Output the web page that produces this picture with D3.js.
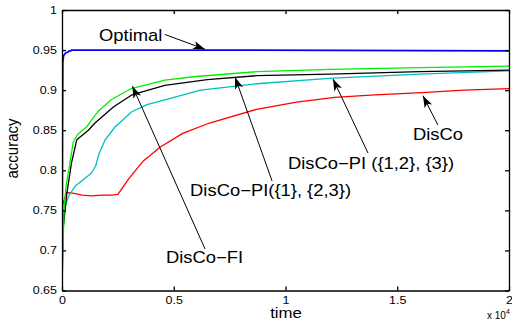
<!DOCTYPE html>
<html>
	<head>
		<title>accuracy vs time</title>
		<style>
			body { margin: 0; background: #fff; }
			text { font-family: "Liberation Sans", Arial, Helvetica, sans-serif; fill: #000; }
		</style>
	</head>
	<body>
		<script src="https://d3js.org/d3.v7.min.js"></script>
		<div id="wrapper"></div>
	</body>
</html>

<script>
	// curves: [time, accuracy]
	var optimal = [[0,0.65],[20,0.85],[35,0.935],[70,0.943],[150,0.946],[280,0.948],[450,0.95],[6000,0.95],[20000,0.949]];
	var discoFI = [[0,0.65],[45,0.70],[90,0.75],[180,0.78],[360,0.81],[500,0.835],[700,0.845],[1100,0.854],[1300,0.862],[1600,0.873],[2200,0.888],[3100,0.902],[4600,0.9125],[6000,0.917],[8700,0.923],[12000,0.926],[16000,0.928],[20000,0.930]];
	var discoPI1 = [[0,0.65],[30,0.70],[60,0.73],[210,0.77],[430,0.81],[660,0.838],[1180,0.85],[1475,0.859],[2300,0.879],[3120,0.894],[4600,0.906],[6500,0.913],[8700,0.918],[12000,0.920],[16000,0.923],[20000,0.925]];
	var discoPI2 = [[0,0.65],[20,0.70],[90,0.75],[280,0.767],[580,0.78],[1030,0.79],[1300,0.796],[1500,0.805],[1650,0.82],[1930,0.838],[2370,0.854],[3120,0.873],[3800,0.882],[4600,0.888],[6200,0.90],[8700,0.908],[12100,0.915],[16000,0.92],[20000,0.924]];
	var disco = [[0,0.65],[10,0.745],[25,0.755],[60,0.76],[120,0.765],[200,0.772],[350,0.772],[600,0.771],[900,0.769],[1300,0.768],[1800,0.769],[2250,0.769],[2500,0.77],[3000,0.79],[3650,0.812],[4400,0.829],[5400,0.846],[6600,0.859],[8700,0.876],[10500,0.885],[12200,0.891],[14000,0.894],[16100,0.897],[18000,0.90],[20000,0.902]];

	var seriesNames = ["Optimal", "DisCo-FI", "DisCo-PI({1}, {2,3})", "DisCo-PI ({1,2}, {3})", "DisCo"];
	var seriesColors = ["#0000ff", "#00ee00", "#000000", "#00bfbf", "#ff0000"];

	// tick values
	var xTicks = [0, 5000, 10000, 15000, 20000];
	var xTickLabels = ["0", "0.5", "1", "1.5", "2"];
	var yTicks = [0.65, 0.7, 0.75, 0.8, 0.85, 0.9, 0.95, 1];
	var yTickLabels = ["0.65", "0.7", "0.75", "0.8", "0.85", "0.9", "0.95", "1"];

	// annotations: label, text start [t, acc], arrow tail, arrow tip
	var annoLabels = ["Optimal", "DisCo\u2212FI", "DisCo\u2212PI({1}, {2,3})", "DisCo\u2212PI ({1,2}, {3})", "DisCo"];
	var annoText = [[1655, 0.9607], [4650, 0.6843], [5730, 0.7679], [10110, 0.8016], [15700, 0.8378]];
	var annoTail = [[4600, 0.9695], [6400, 0.7018], [9400, 0.7866], [13690, 0.8216], [16820, 0.8565]];
	var annoTip = [[6400, 0.951], [3150, 0.905], [7740, 0.9164], [12125, 0.914], [16150, 0.893]];

	var w = 512;
	var h = 323;
	var pLeft = 62, pRight = 509, pTop = 10, pBottom = 290.5;
	var stretch = 1.15;
	var tickStretch = 1.25;

	var svg = d3.select("#wrapper")
				.append("svg")
				.attr("width", w)
				.attr("height", h);

	var x = d3.scaleLinear().domain([0, 20000]).range([pLeft, pRight]);
	var y = d3.scaleLinear().domain([0.65, 1]).range([pBottom, pTop]);

	// clip
	svg.append("clipPath").attr("id", "clip")
		.append("rect")
		.attr("x", pLeft).attr("y", pTop)
		.attr("width", pRight - pLeft).attr("height", pBottom - pTop);

	// curves
	var line = d3.line()
				.x(function(d) { return x(d[0]); })
				.y(function(d) { return y(d[1]); });
	var allSeries = [optimal, discoFI, discoPI1, discoPI2, disco];
	// draw red first, blue last
	var order = [4, 3, 2, 1, 0];
	order.forEach(function(i) {
		svg.append("path")
			.datum(allSeries[i])
			.attr("clip-path", "url(#clip)")
			.attr("d", line)
			.attr("fill", "none")
			.attr("stroke", seriesColors[i])
			.attr("stroke-width", i == 0 ? 1.8 : 1.3)
			.attr("stroke-linejoin", "round");
	});

	// axes
	var fmtX = function(d) { return xTickLabels[xTicks.indexOf(d)]; };
	var fmtY = function(d) { return yTickLabels[yTicks.indexOf(d)]; };

	var gx = svg.append("g")
				.attr("transform", "translate(0," + pBottom + ")")
				.call(d3.axisBottom(x).tickValues(xTicks).tickFormat(fmtX).tickSizeInner(-4).tickSizeOuter(0).tickPadding(6));
	var gy = svg.append("g")
				.attr("transform", "translate(" + pLeft + ",0)")
				.call(d3.axisLeft(y).tickValues(yTicks).tickFormat(fmtY).tickSizeInner(-4).tickSizeOuter(0).tickPadding(4));
	var gt = svg.append("g")
				.attr("transform", "translate(0," + pTop + ")")
				.call(d3.axisTop(x).tickValues(xTicks).tickFormat("").tickSizeInner(-4).tickSizeOuter(0));
	var gr = svg.append("g")
				.attr("transform", "translate(" + pRight + ",0)")
				.call(d3.axisRight(y).tickValues(yTicks).tickFormat("").tickSizeInner(-4).tickSizeOuter(0));

	[gx, gy, gt, gr].forEach(function(g) {
		g.selectAll("path, line").attr("stroke", "#000").attr("stroke-width", 1.3);
		g.selectAll("text")
			.style("font-family", "'Liberation Sans', Arial, sans-serif")
			.style("font-size", "10px")
			.attr("fill", "#000");
	});
	gy.selectAll("text").attr("transform", "scale(" + tickStretch + ",1)");
	gx.selectAll("text").attr("transform", "scale(" + tickStretch + ",1)");

	// axis labels
	svg.append("text")
		.attr("transform", "translate(286,318) scale(1.2,1)")
		.attr("text-anchor", "middle")
		.style("font-size", "14px")
		.text("time");
	svg.append("text")
		.attr("transform", "translate(17.5,148.5) scale(" + stretch + ",1) rotate(-90)")
		.attr("text-anchor", "middle")
		.style("font-size", "15px")
		.text("accuracy");
	var exp = svg.append("text")
		.attr("transform", "translate(487,319)")
		.style("font-size", "10px");
	exp.append("tspan").text("x 10");
	exp.append("tspan").attr("dy", -5).style("font-size", "7px").text("4");

	// arrows
	svg.append("defs").append("marker")
		.attr("id", "head")
		.attr("markerUnits", "userSpaceOnUse")
		.attr("viewBox", "-13 -5 14 10")
		.attr("refX", 0).attr("refY", 0)
		.attr("markerWidth", 14).attr("markerHeight", 10)
		.attr("orient", "auto")
		.append("path")
		.attr("d", "M0,0 L-12,-4.2 L-9,0 L-12,4.2 Z")
		.attr("fill", "#000");

	for (var i = 0; i < annoLabels.length; i++) {
		svg.append("line")
			.attr("x1", x(annoTail[i][0])).attr("y1", y(annoTail[i][1]))
			.attr("x2", x(annoTip[i][0])).attr("y2", y(annoTip[i][1]))
			.attr("stroke", "#000")
			.attr("stroke-width", 1)
			.attr("marker-end", "url(#head)");
		svg.append("text")
			.attr("transform", "translate(" + x(annoText[i][0]) + "," + y(annoText[i][1]) + ") scale(" + stretch + ",1)")
			.style("font-size", "16px")
			.text(annoLabels[i]);
	}
</script>
